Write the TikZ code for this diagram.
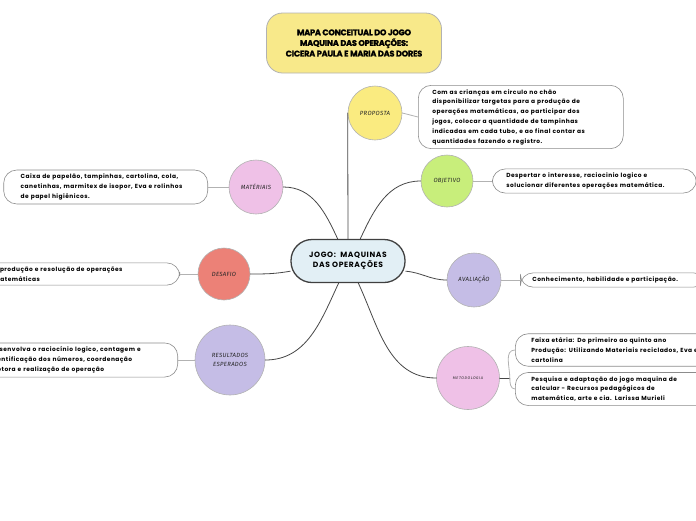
\documentclass[tikz,border=0pt]{standalone}
\usepackage{fontspec}
\setmainfont{Poppins}
\newfontfamily\notefont{Poppins}[LetterSpace=8]
\newfontfamily\titlefont{Poppins}[LetterSpace=-3,BoldFeatures={FakeBold=1.2}]
\newfontfamily\handfont{Fira Sans}[LetterSpace=5]
\newfontfamily\tinyhand{Fira Sans}[LetterSpace=15]
\definecolor{titleyellow}{HTML}{F8E98A}
\definecolor{hubblue}{HTML}{E2EFF5}
\definecolor{topicyellow}{HTML}{FAEB80}
\definecolor{topicpink}{HTML}{EFC1E7}
\definecolor{topicgreen}{HTML}{C8EE7B}
\definecolor{topicred}{HTML}{EC8177}
\definecolor{topiclilac}{HTML}{C5BDE6}
\tikzset{
  topic/.style={circle,draw=black!30,line width=0.6pt,minimum size=#1,inner sep=0pt,
    align=center,text=black!85,font=\handfont\itshape\fontsize{6}{9.5}\selectfont},
  note/.style={rectangle,rounded corners=13pt,draw=black!45,line width=0.6pt,fill=white,
    align=left,inner xsep=14pt,inner ysep=4pt,font=\notefont\bfseries\fontsize{5.9}{9.8}\selectfont},
  branch/.style={draw=black!72,line width=0.8pt},
  twig/.style={draw=black!30,line width=0.8pt}
}
\begin{document}
\begin{tikzpicture}[line join=round,line cap=round]
\useasboundingbox (0,0) rectangle (696pt,-520pt);
\clip (0,0) rectangle (696pt,-520pt);
\begin{scope}[x=1pt,y=1pt]
\node[rectangle,rounded corners=16pt,fill=titleyellow,draw=black!30,line width=0.8pt,
  minimum width=175pt,minimum height=60pt,align=center,
  font=\titlefont\bfseries\fontsize{8.2}{10.6}\selectfont] (title) at (354,-43)
  {MAPA CONCEITUAL DO JOGO\\MAQUINA DAS OPERAÇÕES:\\CICERA PAULA E MARIA DAS DORES};
\node[rectangle,rounded corners=21pt,fill=hubblue,draw=black!75,line width=1.3pt,
  minimum width=114pt,minimum height=43pt,align=center,
  font=\notefont\bfseries\fontsize{7.6}{9.4}\selectfont] (jogo) at (348,-261)
  {JOGO:\ \ MAQUINAS\\DAS OPERAÇÕES};
\node[topic=54pt,fill=topicyellow] (proposta) at (375,-113) {PROPOSTA};
\node[topic=54pt,fill=topicpink] (materiais) at (256,-187) {MATÉRIAIS};
\node[topic=52pt,fill=topicgreen] (objetivo) at (447,-181) {OBJETIVO};
\node[topic=52pt,fill=topicred] (desafio) at (224,-274) {DESAFIO};
\node[topic=54pt,fill=topiclilac] (avaliacao) at (474,-280) {AVALIAÇÃO};
\node[topic=70pt,fill=topiclilac] (resultados) at (230,-360) {RESULTADOS\\ESPERADOS};
\node[topic=63pt,fill=topicpink,font=\tinyhand\itshape\fontsize{3.8}{5}\selectfont] (metodologia) at (468,-378) {METODOLOGIA};
\node[note,anchor=west,text width=177pt] (propostanote) at (418,-117)
  {Com as crianças em circulo no chão\\disponibilizar targetas para a produção de\\operações matemáticas, ao participar dos\\jogos, colocar a quantidade de tampinhas\\indicadas em cada tubo, e ao final contar as\\quantidades fazendo o registro.};
\node[note,anchor=east,inner xsep=17pt,text width=170pt] (materiaisnote) at (208,-187)
  {Caixa de papelão, tampinhas, cartolina, cola,\\canetinhas, marmitex de isopor, Eva e rolinhos\\de papel higiênicos.};
\node[note,anchor=west,text width=176pt] (objetivonote) at (492,-181)
  {Despertar o interesse, raciocinio logico e\\solucionar diferentes operações matemática.};
\node[note,anchor=east,text width=172pt] (desafionote) at (180,-274)
  {A produção e resolução de operações\\matemáticas};
\node[note,anchor=west,inner xsep=12pt,text width=162pt] (avaliacaonote) at (520,-280)
  {Conhecimento, habilidade e participação.};
\node[note,anchor=east,text width=173pt] (resultadosnote) at (178,-360)
  {Desenvolva o raciocínio logico, contagem e\\identificação dos números, coordenação\\motora e realização de operação};
\node[note,anchor=west,inner xsep=16pt,text width=195pt] (faixanote) at (515,-350)
  {Faixa etária: Do primeiro ao quinto ano\\Produção: Utilizando Materiais reciclados, Eva e\\cartolina};
\node[note,anchor=west,inner xsep=16pt,text width=164pt] (pesquisanote) at (515,-389)
  {Pesquisa e adaptação do jogo maquina de\\calcular - Recursos pedagógicos de\\matemática, arte e cia. Larissa Murieli};
\draw[branch] (jogo.north) -- (proposta.west);
\draw[branch] (materiais.east) to[out=0,in=115] (jogo.115);
\draw[branch] (jogo.61) to[out=65,in=180] (objetivo.west);
\draw[branch] (desafio.east) to[out=0,in=190] (jogo.190);
\draw[branch] (jogo.-10) to[out=-5,in=180] (avaliacao.west);
\draw[branch] (resultados.east) to[out=0,in=-115] (jogo.-113);
\draw[branch] (jogo.-65) to[out=-65,in=180] (metodologia.west);
\foreach \t in {proposta,objetivo,avaliacao}
  \draw[twig] (\t.east) -- (\t note.west);
\foreach \t in {materiais,desafio,resultados}
  \draw[twig] (\t.west) -- (\t note.east);
\draw[branch] (metodologia.east) -- ++(10,0) coordinate (fork);
\draw[twig] (fork) to[out=90,in=180] (faixanote.west);
\draw[twig] (fork) to[out=-90,in=180] (pesquisanote.west);
\end{scope}
\end{tikzpicture}
\end{document}
